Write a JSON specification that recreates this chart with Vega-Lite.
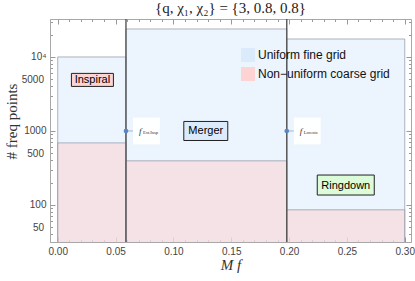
{
  "$schema": "https://vega.github.io/schema/vega-lite/v6.json",
  "width": 361,
  "height": 223,
  "autosize": {"type": "none"},
  "padding": {"left": 50, "top": 19, "right": 4, "bottom": 39},
  "background": "white",
  "config": {"view": {"stroke": "#a8a8a8", "strokeWidth": 1}, "font": "Liberation Sans"},
  "title": {"text": "{q, χ₁, χ₂} = {3, 0.8, 0.8}", "font": "Liberation Serif", "fontSize": 15, "fontWeight": "normal", "color": "#222", "offset": 1, "anchor": "middle"},
  "datasets": {
    "bars": [
      {"phase": "Inspiral", "grid": "Uniform fine grid", "x0": 0, "x1": 0.059, "n": 10000},
      {"phase": "Merger", "grid": "Uniform fine grid", "x0": 0.059, "x1": 0.198, "n": 23900},
      {"phase": "Ringdown", "grid": "Uniform fine grid", "x0": 0.198, "x1": 0.3, "n": 17500},
      {"phase": "Inspiral", "grid": "Non−uniform coarse grid", "x0": 0, "x1": 0.059, "n": 690},
      {"phase": "Merger", "grid": "Non−uniform coarse grid", "x0": 0.059, "x1": 0.198, "n": 395},
      {"phase": "Ringdown", "grid": "Non−uniform coarse grid", "x0": 0.198, "x1": 0.3, "n": 86}
    ],
    "freqs": [
      {"f": 0.059, "sub": "Ext.Insp", "n": 1000},
      {"f": 0.198, "sub": "Lorentz", "n": 1000}
    ],
    "labels": [
      {"phase": "Inspiral", "x": 0.030, "n": 4900},
      {"phase": "Merger", "x": 0.128, "n": 1000},
      {"phase": "Ringdown", "x": 0.249, "n": 186}
    ]
  },
  "layer": [
    {
      "data": {"name": "bars"},
      "mark": {"type": "rect", "fillOpacity": 0.55, "stroke": "#8a95a5", "strokeOpacity": 0.7, "strokeWidth": 1, "clip": true},
      "encoding": {
        "x": {"field": "x0", "type": "quantitative",
          "scale": {"domain": [-0.00667, 0.3054], "nice": false, "zero": false},
          "axis": {
            "orient": "bottom",
            "title": "M f", "titleFont": "Liberation Serif", "titleFontStyle": "italic", "titleFontSize": 15, "titleFontWeight": "normal", "titleColor": "#333", "titlePadding": -1,
            "values": [0,0.01,0.02,0.03,0.04,0.05,0.06,0.07,0.08,0.09,0.1,0.11,0.12,0.13,0.14,0.15,0.16,0.17,0.18,0.19,0.2,0.21,0.22,0.23,0.24,0.25,0.26,0.27,0.28,0.29,0.3],
            "labelExpr": "abs(datum.value*20 - round(datum.value*20)) < 0.001 ? format(datum.value, '.2f') : ''",
            "labelOverlap": false, "labelFlush": false,
            "labelFontSize": 10, "labelColor": "#444", "labelPadding": 9,
            "tickSize": {"condition": {"test": "abs(datum.value*20 - round(datum.value*20)) < 0.001", "value": -5}, "value": -2.5},
            "tickColor": "#999", "domainColor": "#a8a8a8", "grid": false
          }},
        "x2": {"field": "x1"},
        "y": {"field": "n", "type": "quantitative",
          "scale": {"type": "log", "domain": [31.6, 32600], "nice": false},
          "axis": {
            "orient": "left",
            "title": "# freq points", "titleFont": "Liberation Serif", "titleFontSize": 15, "titleFontWeight": "normal", "titleColor": "#333", "titlePadding": 2, "titleY": 102,
            "values": [40,50,60,70,80,90,100,200,300,400,500,600,700,800,900,1000,2000,3000,4000,5000,6000,7000,8000,9000,10000,20000,30000],
            "labelExpr": "datum.value == 10000 ? '10⁴' : (indexof([50,100,500,1000,5000], datum.value) >= 0 ? format(datum.value, 'd') : '')",
            "labelOverlap": false, "labelFlush": false,
            "labelFontSize": 10, "labelColor": "#444", "labelPadding": 9,
            "tickSize": {"condition": {"test": "indexof([100,1000,10000], datum.value) >= 0", "value": -5}, "value": -2.5},
            "tickColor": "#999", "domainColor": "#a8a8a8", "grid": false
          }},
        "y2": {"datum": 20},
        "fill": {"field": "grid", "type": "nominal",
          "scale": {"domain": ["Uniform fine grid", "Non−uniform coarse grid"], "range": ["#dcebfb", "#fdd3d3"]},
          "legend": {"title": null, "orient": "none", "legendX": 191, "legendY": 29, "symbolType": "square", "symbolSize": 196, "symbolStrokeWidth": 0,
            "labelFontSize": 12, "labelFont": "Liberation Sans", "labelColor": "#111", "labelOffset": 3, "rowPadding": 5, "padding": 0,
            "encode": {"symbols": {"update": {"fillOpacity": {"value": 1}, "opacity": {"value": 1}, "strokeWidth": {"value": 0}}}}}
        }
      }
    },
    {
      "data": {"name": "freqs"},
      "mark": {"type": "rule", "color": "#555", "strokeWidth": 1.4},
      "encoding": {
        "x": {"field": "f", "type": "quantitative",
          "axis": {"orient": "top", "labels": false, "title": null, "domain": false,
            "values": [0,0.01,0.02,0.03,0.04,0.05,0.06,0.07,0.08,0.09,0.1,0.11,0.12,0.13,0.14,0.15,0.16,0.17,0.18,0.19,0.2,0.21,0.22,0.23,0.24,0.25,0.26,0.27,0.28,0.29,0.3],
            "tickSize": {"condition": {"test": "abs(datum.value*20 - round(datum.value*20)) < 0.001", "value": -5}, "value": -2.5},
            "tickColor": "#999", "grid": false}}
      }
    },
    {
      "data": {"name": "freqs"},
      "mark": {"type": "point", "shape": "square", "filled": true, "color": "white", "opacity": 0.92, "size": 729, "xOffset": 20.5},
      "encoding": {
        "x": {"field": "f", "type": "quantitative", "axis": null},
        "y": {"field": "n", "type": "quantitative",
          "axis": {"orient": "right", "labels": false, "title": null, "domain": false,
            "values": [40,50,60,70,80,90,100,200,300,400,500,600,700,800,900,1000,2000,3000,4000,5000,6000,7000,8000,9000,10000,20000,30000],
            "tickSize": {"condition": {"test": "indexof([100,1000,10000], datum.value) >= 0", "value": -5}, "value": -2.5},
            "tickColor": "#999", "grid": false}}
      }
    },
    {
      "data": {"name": "freqs"},
      "mark": {"type": "point", "shape": "stroke", "filled": false, "color": "#7d9bd0", "strokeWidth": 1, "size": 36, "xOffset": 4},
      "encoding": {
        "x": {"field": "f", "type": "quantitative", "axis": null},
        "y": {"field": "n", "type": "quantitative", "axis": null}
      }
    },
    {
      "data": {"name": "freqs"},
      "mark": {"type": "point", "shape": "circle", "filled": true, "color": "#5b84c4", "opacity": 1, "size": 22},
      "encoding": {
        "x": {"field": "f", "type": "quantitative", "axis": null},
        "y": {"field": "n", "type": "quantitative", "axis": null}
      }
    },
    {
      "data": {"name": "freqs"},
      "mark": {"type": "text", "text": "f", "font": "Liberation Serif", "fontStyle": "italic", "fontSize": 9, "align": "left", "baseline": "middle", "dx": 13, "color": "#333"},
      "encoding": {
        "x": {"field": "f", "type": "quantitative", "axis": null},
        "y": {"field": "n", "type": "quantitative", "axis": null}
      }
    },
    {
      "data": {"name": "freqs"},
      "mark": {"type": "text", "font": "Liberation Serif", "fontSize": 4.5, "align": "left", "baseline": "middle", "dx": 17, "dy": 2, "color": "#333"},
      "encoding": {
        "x": {"field": "f", "type": "quantitative", "axis": null},
        "y": {"field": "n", "type": "quantitative", "axis": null},
        "text": {"field": "sub"}
      }
    },
    {
      "data": {"name": "labels"},
      "mark": {"type": "point", "filled": true, "size": 3600, "opacity": 1, "stroke": "#222", "strokeWidth": 1},
      "encoding": {
        "x": {"field": "x", "type": "quantitative", "axis": null},
        "y": {"field": "n", "type": "quantitative", "axis": null},
        "shape": {"field": "phase", "type": "nominal", "legend": null,
          "scale": {"domain": ["Inspiral", "Merger", "Ringdown"], "range": ["M-0.7,-0.217H0.7V0.217H-0.7Z", "M-0.733,-0.317H0.733V0.317H-0.733Z", "M-0.95,-0.333H0.95V0.333H-0.95Z"]}},
        "fill": {"field": "phase", "type": "nominal", "legend": null,
          "scale": {"domain": ["Inspiral", "Merger", "Ringdown"], "range": ["#fcd4d4", "#dcebfb", "#dcfbd8"]}}
      }
    },
    {
      "data": {"name": "labels"},
      "mark": {"type": "text", "font": "Liberation Sans", "fontSize": 11, "baseline": "middle", "align": "center", "dy": 0.5, "color": "#000"},
      "encoding": {
        "x": {"field": "x", "type": "quantitative", "axis": null},
        "y": {"field": "n", "type": "quantitative", "axis": null},
        "text": {"field": "phase"}
      }
    }
  ],
  "resolve": {"scale": {"fill": "independent", "shape": "independent"}, "axis": {"x": "independent", "y": "independent"}}
}
